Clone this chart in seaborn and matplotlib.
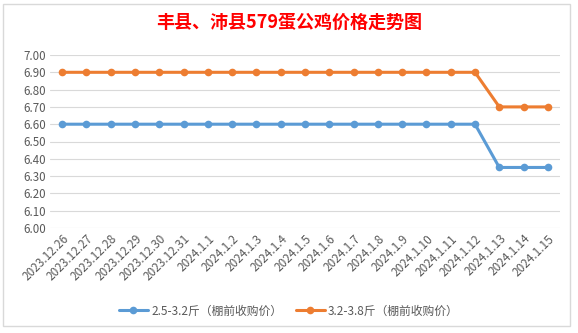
import matplotlib
matplotlib.use("Agg")
import matplotlib.pyplot as plt
import seaborn as sns
import pandas as pd
from matplotlib.patches import Rectangle

dates = ["2023.12.26", "2023.12.27", "2023.12.28", "2023.12.29", "2023.12.30", "2023.12.31",
         "2024.1.1", "2024.1.2", "2024.1.3", "2024.1.4", "2024.1.5", "2024.1.6", "2024.1.7",
         "2024.1.8", "2024.1.9", "2024.1.10", "2024.1.11", "2024.1.12", "2024.1.13",
         "2024.1.14", "2024.1.15"]
small = [6.60] * 18 + [6.35, 6.35, 6.35]
large = [6.90] * 18 + [6.70, 6.70, 6.70]
series_names = ["2.5-3.2斤（棚前收购价）", "3.2-3.8斤（棚前收购价）"]
colors = ["#5B9BD5", "#ED7D31"]
yticks = [6.00, 6.10, 6.20, 6.30, 6.40, 6.50, 6.60, 6.70, 6.80, 6.90, 7.00]

sns.set_theme(style="white")
plt.rcParams['font.family'] = ['Noto Sans CJK SC', 'DejaVu Sans']

df = pd.DataFrame({"date": dates * 2,
                   "price": small + large,
                   "series": [series_names[0]] * len(dates) + [series_names[1]] * len(dates)})
df["x"] = list(range(len(dates))) * 2

fig = plt.figure(figsize=(5.78, 3.33), dpi=100)
ax = fig.add_axes([50 / 578, 1 - 228 / 333, (560 - 50) / 578, (228 - 55) / 333])

sns.lineplot(data=df, x="x", y="price", hue="series", palette=colors, marker="o",
             markersize=5.5, markeredgewidth=0, linewidth=2.2, ax=ax, legend=True)

ax.set_xlim(-0.5, len(dates) - 0.5)
ax.set_ylim(6.0, 7.0)
ax.set_yticks(yticks)
ax.set_yticklabels([f"{v:.2f}" for v in yticks], color="#595959", fontsize=8.3)
ax.set_xticks(range(len(dates)))
ax.set_xticklabels(dates, rotation=45, ha="right", rotation_mode="anchor",
                   color="#595959", fontsize=8.5)
ax.tick_params(axis="both", length=0, pad=3)
ax.grid(axis="y", color="#D9D9D9", linewidth=0.8)
ax.set_axisbelow(True)
for s in ax.spines.values():
    s.set_visible(False)
ax.set_xlabel("")
ax.set_ylabel("")

handles, labels = ax.get_legend_handles_labels()
ax.legend(handles, labels, loc="center", bbox_to_anchor=(0.5, 1 - 311 / 333),
          bbox_transform=fig.transFigure, ncol=2, frameon=False, fontsize=8.5,
          labelcolor="#595959", handlelength=2.4, handletextpad=0.3, columnspacing=1.2)

fig.text(0.5, 1 - 22 / 333, "丰县、沛县579蛋公鸡价格走势图", ha="center", va="center",
         color="#FF0000", fontsize=13, fontweight="bold")

fig.patches.append(Rectangle((3 / 578, 1 - 326 / 333), 567 / 578, 322 / 333,
                             transform=fig.transFigure, fill=False,
                             edgecolor="#D9D9D9", linewidth=1))

fig.savefig("out.png", dpi=100)
